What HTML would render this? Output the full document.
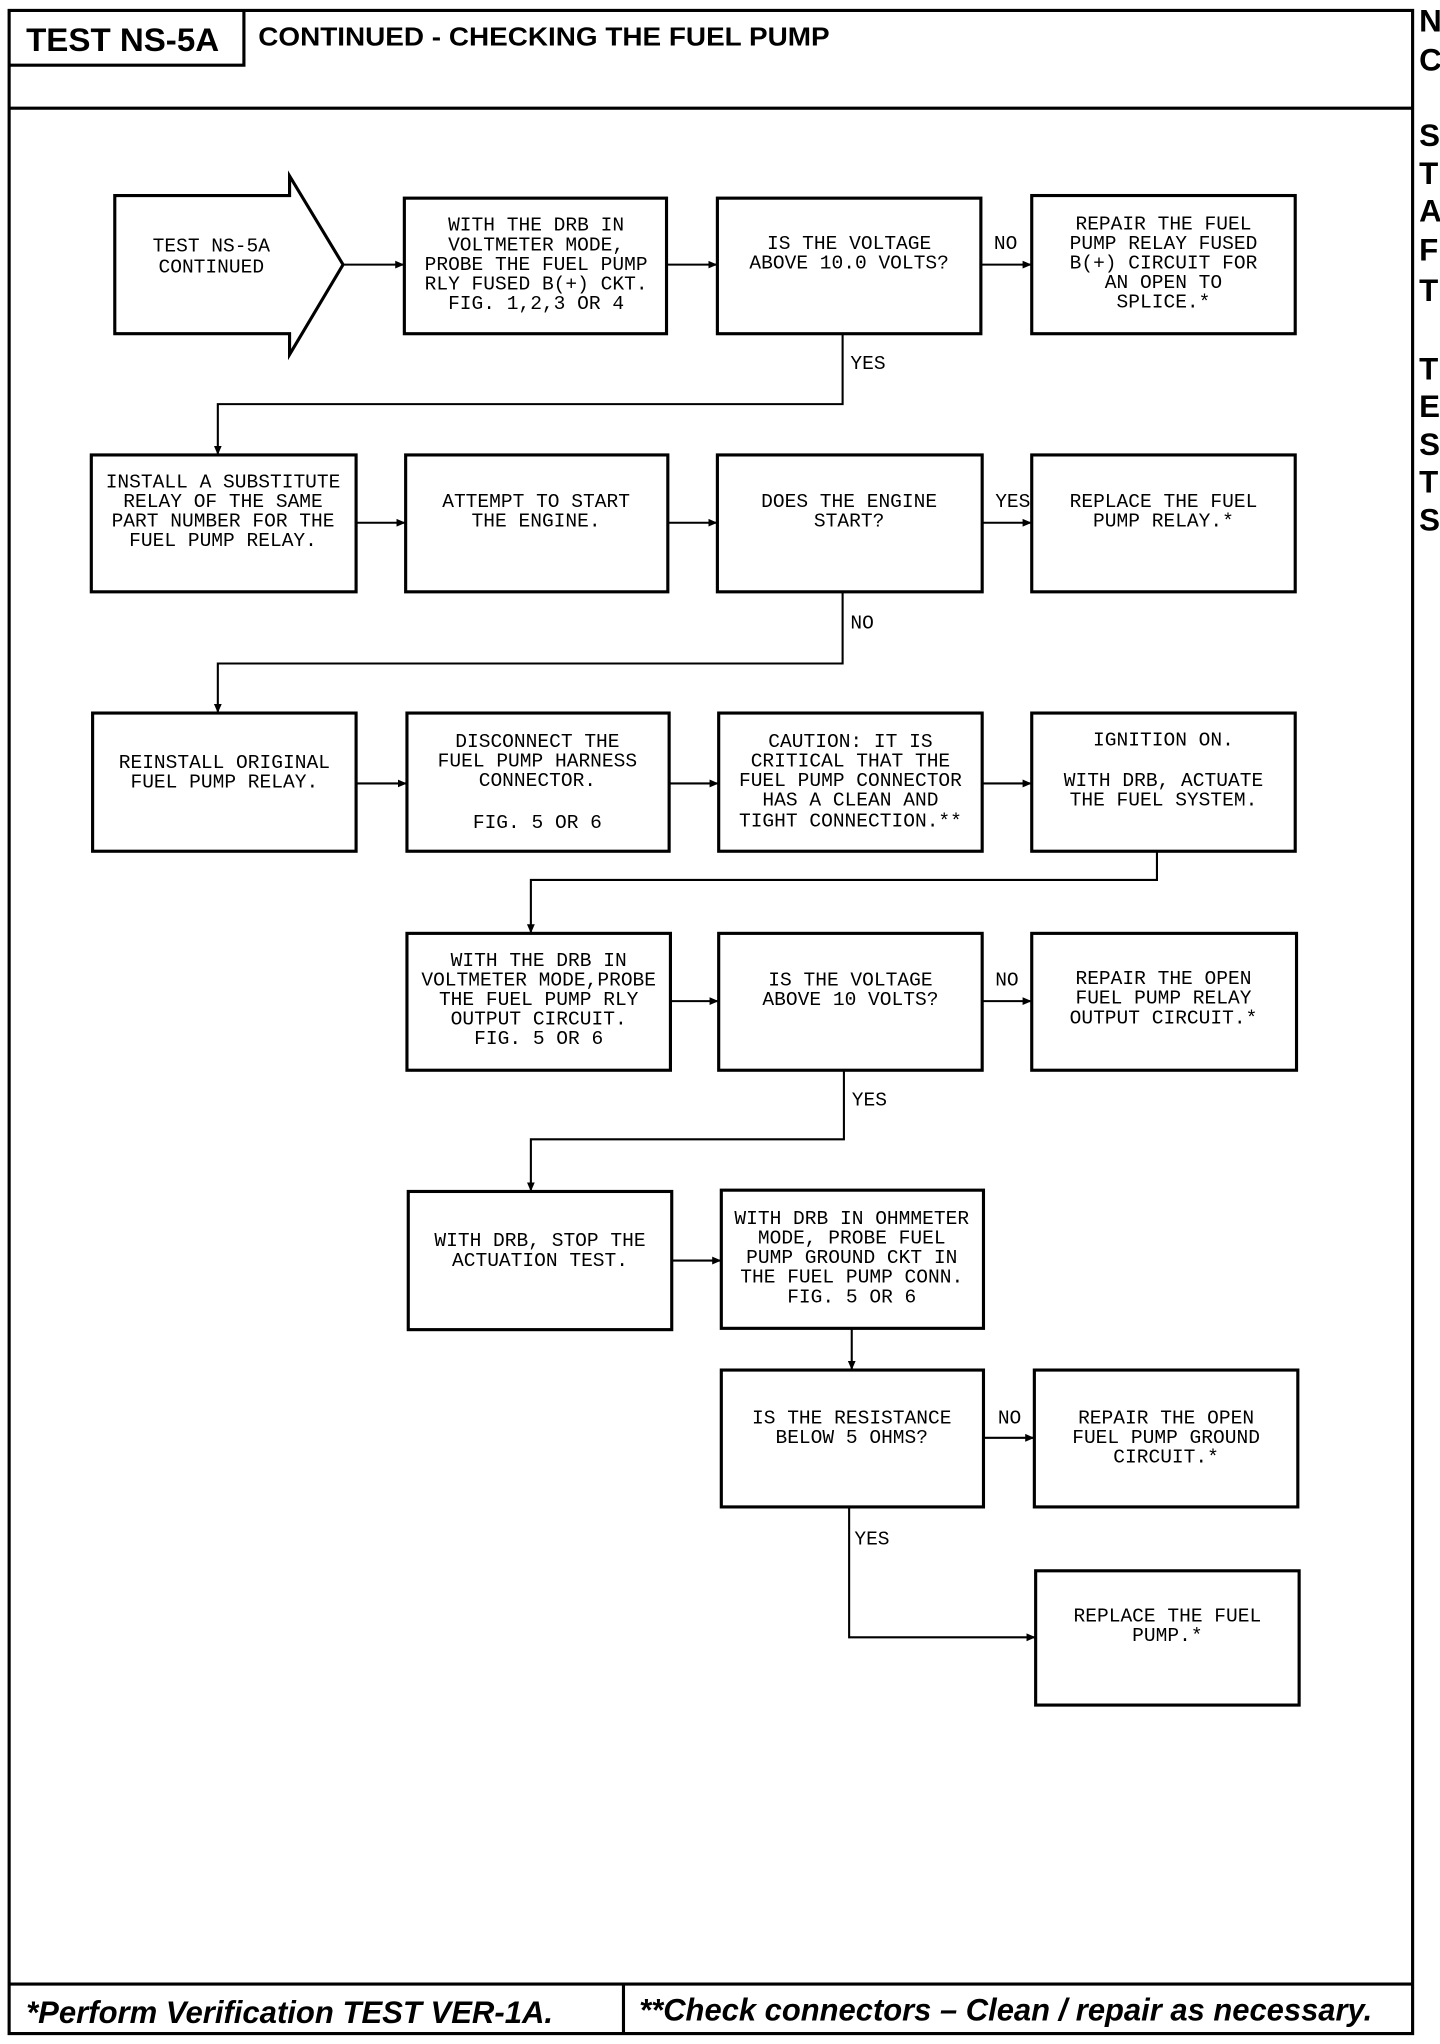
<!DOCTYPE html>
<html><head><meta charset="utf-8"><style>
html,body{margin:0;padding:0;background:#fff;}
svg{display:block;}
.t{font-family:"Liberation Mono",monospace;font-size:15px;fill:#000;text-anchor:middle;}
.l{font-family:"Liberation Mono",monospace;font-size:15px;fill:#000;}
.b{fill:none;stroke:#000;stroke-width:2.4;}
.c{fill:none;stroke:#000;stroke-width:1.6;}
</style></head><body>
<svg width="1440" height="2044" viewBox="0 0 1104 1568" preserveAspectRatio="none">
<defs><marker id="a" markerWidth="8" markerHeight="8" refX="7" refY="4" orient="auto" markerUnits="userSpaceOnUse"><path d="M0,1 L7,4 L0,7 Z" fill="#000"/></marker></defs>
<rect x="7" y="8" width="1076" height="1552" class="b"/>
<line x1="7" y1="83" x2="1083" y2="83" class="b" stroke-width="2.5"/>
<polyline points="7,50 187,50 187,8" class="b"/>
<text x="20" y="39" textLength="148" lengthAdjust="spacingAndGlyphs" style="font-family:'Liberation Sans',sans-serif;font-weight:bold;font-size:25px">TEST NS-5A</text>
<text x="198" y="35" textLength="438" lengthAdjust="spacingAndGlyphs" style="font-family:'Liberation Sans',sans-serif;font-weight:bold;font-size:20px">CONTINUED - CHECKING THE FUEL PUMP</text>
<line x1="7" y1="1522" x2="1083" y2="1522" class="b"/>
<line x1="478" y1="1522" x2="478" y2="1560" class="b"/>
<text x="20" y="1552" textLength="404" lengthAdjust="spacingAndGlyphs" style="font-family:'Liberation Sans',sans-serif;font-weight:bold;font-style:italic;font-size:24px">*Perform Verification TEST VER-1A.</text>
<text x="490" y="1550" textLength="562" lengthAdjust="spacingAndGlyphs" style="font-family:'Liberation Sans',sans-serif;font-weight:bold;font-style:italic;font-size:24px">**Check connectors – Clean / repair as necessary.</text>
<g style="font-family:'Liberation Sans',sans-serif;font-weight:bold;font-size:24px">
<text x="1088" y="24">N</text><text x="1088" y="54">C</text>
<text x="1088" y="112">S</text><text x="1088" y="141">T</text><text x="1088" y="170">A</text><text x="1088" y="200">F</text><text x="1088" y="231">T</text>
<text x="1088" y="291">T</text><text x="1088" y="320">E</text><text x="1088" y="349">S</text><text x="1088" y="378">T</text><text x="1088" y="407">S</text>
</g>
<polygon points="88,150 222,150 222,135 263,203 222,272 222,256 88,256" class="b"/>
<text class="t"><tspan x="162" y="193">TEST NS-5A</tspan><tspan x="162" y="209">CONTINUED</tspan></text>
<rect x="310" y="152" width="201" height="104" class="b"/>
<text class="t"><tspan x="411" y="177">WITH THE DRB IN</tspan><tspan x="411" y="192">VOLTMETER MODE,</tspan><tspan x="411" y="207">PROBE THE FUEL PUMP</tspan><tspan x="411" y="222">RLY FUSED B(+) CKT.</tspan><tspan x="411" y="237">FIG. 1,2,3 OR 4</tspan></text>
<rect x="550" y="152" width="202" height="104" class="b"/>
<text class="t"><tspan x="651" y="191">IS THE VOLTAGE</tspan><tspan x="651" y="206">ABOVE 10.0 VOLTS?</tspan></text>
<rect x="791" y="150" width="202" height="106" class="b"/>
<text class="t"><tspan x="892" y="176">REPAIR THE FUEL</tspan><tspan x="892" y="191">PUMP RELAY FUSED</tspan><tspan x="892" y="206">B(+) CIRCUIT FOR</tspan><tspan x="892" y="221">AN OPEN TO</tspan><tspan x="892" y="236">SPLICE.*</tspan></text>
<line x1="263" y1="203" x2="310" y2="203" class="c" marker-end="url(#a)"/>
<line x1="511" y1="203" x2="550" y2="203" class="c" marker-end="url(#a)"/>
<line x1="752" y1="203" x2="791" y2="203" class="c" marker-end="url(#a)"/>
<text class="l" x="762" y="191">NO</text>
<polyline points="646,256 646,310 167,310 167,349" class="c" marker-end="url(#a)"/>
<text class="l" x="652" y="283">YES</text>
<rect x="70" y="349" width="203" height="105" class="b"/>
<text class="t"><tspan x="171" y="374">INSTALL A SUBSTITUTE</tspan><tspan x="171" y="389">RELAY OF THE SAME</tspan><tspan x="171" y="404">PART NUMBER FOR THE</tspan><tspan x="171" y="419">FUEL PUMP RELAY.</tspan></text>
<rect x="311" y="349" width="201" height="105" class="b"/>
<text class="t"><tspan x="411" y="389">ATTEMPT TO START</tspan><tspan x="411" y="404">THE ENGINE.</tspan></text>
<rect x="550" y="349" width="203" height="105" class="b"/>
<text class="t"><tspan x="651" y="389">DOES THE ENGINE</tspan><tspan x="651" y="404">START?</tspan></text>
<rect x="791" y="349" width="202" height="105" class="b"/>
<text class="t"><tspan x="892" y="389">REPLACE THE FUEL</tspan><tspan x="892" y="404">PUMP RELAY.*</tspan></text>
<line x1="273" y1="401" x2="311" y2="401" class="c" marker-end="url(#a)"/>
<line x1="512" y1="401" x2="550" y2="401" class="c" marker-end="url(#a)"/>
<line x1="753" y1="401" x2="791" y2="401" class="c" marker-end="url(#a)"/>
<text class="l" x="763" y="389">YES</text>
<polyline points="646,454 646,509 167,509 167,547" class="c" marker-end="url(#a)"/>
<text class="l" x="652" y="482">NO</text>
<rect x="71" y="547" width="202" height="106" class="b"/>
<text class="t"><tspan x="172" y="589">REINSTALL ORIGINAL</tspan><tspan x="172" y="604">FUEL PUMP RELAY.</tspan></text>
<rect x="312" y="547" width="201" height="106" class="b"/>
<text class="t"><tspan x="412" y="573">DISCONNECT THE</tspan><tspan x="412" y="588">FUEL PUMP HARNESS</tspan><tspan x="412" y="603">CONNECTOR.</tspan><tspan x="412" y="635">FIG. 5 OR 6</tspan></text>
<rect x="551" y="547" width="202" height="106" class="b"/>
<text class="t"><tspan x="652" y="573">CAUTION: IT IS</tspan><tspan x="652" y="588">CRITICAL THAT THE</tspan><tspan x="652" y="603">FUEL PUMP CONNECTOR</tspan><tspan x="652" y="618">HAS A CLEAN AND</tspan><tspan x="652" y="634">TIGHT CONNECTION.**</tspan></text>
<rect x="791" y="547" width="202" height="106" class="b"/>
<text class="t"><tspan x="892" y="572">IGNITION ON.</tspan><tspan x="892" y="603">WITH DRB, ACTUATE</tspan><tspan x="892" y="618">THE FUEL SYSTEM.</tspan></text>
<line x1="273" y1="601" x2="312" y2="601" class="c" marker-end="url(#a)"/>
<line x1="513" y1="601" x2="551" y2="601" class="c" marker-end="url(#a)"/>
<line x1="753" y1="601" x2="791" y2="601" class="c" marker-end="url(#a)"/>
<polyline points="887,653 887,675 407,675 407,716" class="c" marker-end="url(#a)"/>
<rect x="312" y="716" width="202" height="105" class="b"/>
<text class="t"><tspan x="413" y="741">WITH THE DRB IN</tspan><tspan x="413" y="756">VOLTMETER MODE,PROBE</tspan><tspan x="413" y="771">THE FUEL PUMP RLY</tspan><tspan x="413" y="786">OUTPUT CIRCUIT.</tspan><tspan x="413" y="801">FIG. 5 OR 6</tspan></text>
<rect x="551" y="716" width="202" height="105" class="b"/>
<text class="t"><tspan x="652" y="756">IS THE VOLTAGE</tspan><tspan x="652" y="771">ABOVE 10 VOLTS?</tspan></text>
<rect x="791" y="716" width="203" height="105" class="b"/>
<text class="t"><tspan x="892" y="755">REPAIR THE OPEN</tspan><tspan x="892" y="770">FUEL PUMP RELAY</tspan><tspan x="892" y="785">OUTPUT CIRCUIT.*</tspan></text>
<line x1="514" y1="768" x2="551" y2="768" class="c" marker-end="url(#a)"/>
<line x1="753" y1="768" x2="791" y2="768" class="c" marker-end="url(#a)"/>
<text class="l" x="763" y="756">NO</text>
<polyline points="647,821 647,874 407,874 407,914" class="c" marker-end="url(#a)"/>
<text class="l" x="653" y="848">YES</text>
<rect x="313" y="914" width="202" height="106" class="b"/>
<text class="t"><tspan x="414" y="956">WITH DRB, STOP THE</tspan><tspan x="414" y="971">ACTUATION TEST.</tspan></text>
<rect x="553" y="913" width="201" height="106" class="b"/>
<text class="t"><tspan x="653" y="939">WITH DRB IN OHMMETER</tspan><tspan x="653" y="954">MODE, PROBE FUEL</tspan><tspan x="653" y="969">PUMP GROUND CKT IN</tspan><tspan x="653" y="984">THE FUEL PUMP CONN.</tspan><tspan x="653" y="999">FIG. 5 OR 6</tspan></text>
<line x1="515" y1="967" x2="553" y2="967" class="c" marker-end="url(#a)"/>
<line x1="653" y1="1019" x2="653" y2="1051" class="c" marker-end="url(#a)"/>
<rect x="553" y="1051" width="201" height="105" class="b"/>
<text class="t"><tspan x="653" y="1092">IS THE RESISTANCE</tspan><tspan x="653" y="1107">BELOW 5 OHMS?</tspan></text>
<rect x="793" y="1051" width="202" height="105" class="b"/>
<text class="t"><tspan x="894" y="1092">REPAIR THE OPEN</tspan><tspan x="894" y="1107">FUEL PUMP GROUND</tspan><tspan x="894" y="1122">CIRCUIT.*</tspan></text>
<line x1="754" y1="1103" x2="793" y2="1103" class="c" marker-end="url(#a)"/>
<text class="l" x="765" y="1092">NO</text>
<polyline points="651,1156 651,1256 794,1256" class="c" marker-end="url(#a)"/>
<text class="l" x="655" y="1185">YES</text>
<rect x="794" y="1205" width="202" height="103" class="b"/>
<text class="t"><tspan x="895" y="1244">REPLACE THE FUEL</tspan><tspan x="895" y="1259">PUMP.*</tspan></text>
</svg>
</body></html>
